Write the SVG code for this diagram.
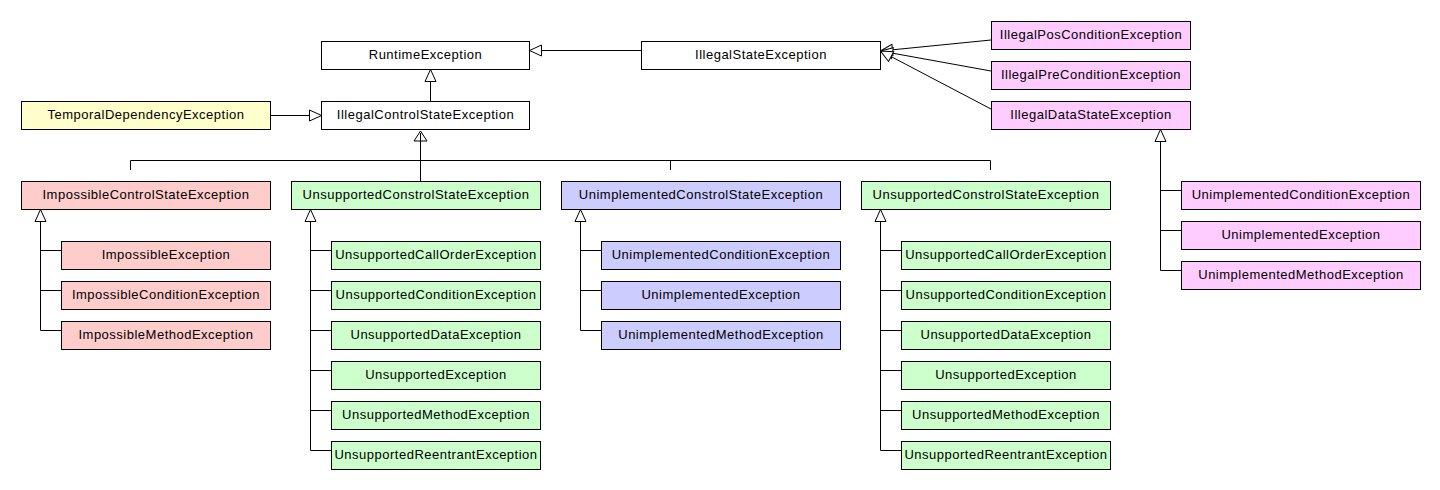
<svg xmlns="http://www.w3.org/2000/svg" width="1440" height="490" viewBox="0 0 1440 490">
<style>
.b{stroke:#000;stroke-width:1}
.w{fill:#fff}.y{fill:#ffffcc}.r{fill:#ffcccc}.g{fill:#ccffcc}.u{fill:#ccccff}.p{fill:#ffccff}
text{font-family:"Liberation Sans",Arial,Helvetica,sans-serif;font-size:13px;letter-spacing:0.5px;fill:#000;text-anchor:middle}
.c{fill:none;stroke:#000;stroke-width:1}
.a{marker-end:url(#tri)}
.t{fill:#fff;stroke:#000;stroke-width:1}
</style>
<defs>
<marker id="tri" markerUnits="userSpaceOnUse" markerWidth="13" markerHeight="13" viewBox="0 0 13 13" refX="12.5" refY="6.5" orient="auto" overflow="visible">
<path d="M0.5,1 L12.5,6.5 L0.5,12 Z" fill="#fff" stroke="#000" stroke-width="1"/>
</marker>
</defs>
<rect width="1440" height="490" fill="#fff"/>
<g id="connectors">
<path class="c a" d="M430.5,101 V69.5"/>
<path class="c a" d="M641,50.5 H529.5"/>
<path class="c a" d="M270,115.5 H321.5"/>
<path class="c a" d="M991,40 L880.5,51"/>
<path class="c a" d="M991,71 L880.5,51"/>
<path class="c a" d="M991,109 L880.5,51"/>
<path class="c" d="M130.5,170 V160.5 H990.5 V170 M670.5,160.5 V170"/>
<polygon class="t" points="420.5,120 414,129.5 427,129.5"/>
<polygon class="t" points="420.5,131 414,141 427,141"/>
<path class="c" d="M420.5,181 V133"/>
<path class="c a" d="M40.5,330.5 V209.5"/>
<path class="c" d="M40.5,250.5 H61 M40.5,290.5 H61 M40.5,330.5 H61"/>
<path class="c a" d="M310.5,450.5 V209.5"/>
<path class="c" d="M310.5,250.5 H331 M310.5,290.5 H331 M310.5,330.5 H331 M310.5,370.5 H331 M310.5,410.5 H331 M310.5,450.5 H331"/>
<path class="c a" d="M580.5,330.5 V209.5"/>
<path class="c" d="M580.5,250.5 H601 M580.5,290.5 H601 M580.5,330.5 H601"/>
<path class="c a" d="M880.5,450.5 V209.5"/>
<path class="c" d="M880.5,250.5 H901 M880.5,290.5 H901 M880.5,330.5 H901 M880.5,370.5 H901 M880.5,410.5 H901 M880.5,450.5 H901"/>
<path class="c a" d="M1160.5,270.5 V129.5"/>
<path class="c" d="M1160.5,190.5 H1181 M1160.5,230.5 H1181 M1160.5,270.5 H1181"/>
</g>
<g id="RuntimeException"><rect class="b w" x="321.5" y="41.5" width="208" height="28"/><text x="425.5" y="59">RuntimeException</text></g>
<g id="IllegalStateException"><rect class="b w" x="641.5" y="41.5" width="239" height="28"/><text x="761" y="59">IllegalStateException</text></g>
<g id="IllegalPosConditionException"><rect class="b p" x="991.5" y="21.5" width="199" height="28"/><text x="1091" y="39">IllegalPosConditionException</text></g>
<g id="IllegalPreConditionException"><rect class="b p" x="991.5" y="61.5" width="199" height="28"/><text x="1091" y="79">IllegalPreConditionException</text></g>
<g id="IllegalDataStateException"><rect class="b p" x="991.5" y="101.5" width="199" height="28"/><text x="1091" y="119">IllegalDataStateException</text></g>
<g id="TemporalDependencyException"><rect class="b y" x="21.5" y="101.5" width="249" height="28"/><text x="146" y="119">TemporalDependencyException</text></g>
<g id="IllegalControlStateException"><rect class="b w" x="321.5" y="101.5" width="208" height="28"/><text x="425.5" y="119">IllegalControlStateException</text></g>
<g id="ImpossibleControlStateException"><rect class="b r" x="21.5" y="181.5" width="249" height="28"/><text x="146" y="199">ImpossibleControlStateException</text></g>
<g id="UnsupportedConstrolStateException1"><rect class="b g" x="291.5" y="181.5" width="249" height="28"/><text x="416" y="199">UnsupportedConstrolStateException</text></g>
<g id="UnimplementedConstrolStateException"><rect class="b u" x="561.5" y="181.5" width="279" height="28"/><text x="701" y="199">UnimplementedConstrolStateException</text></g>
<g id="UnsupportedConstrolStateException2"><rect class="b g" x="861.5" y="181.5" width="249" height="28"/><text x="986" y="199">UnsupportedConstrolStateException</text></g>
<g id="ImpossibleException"><rect class="b r" x="61.5" y="241.5" width="209" height="28"/><text x="166" y="259">ImpossibleException</text></g>
<g id="ImpossibleConditionException"><rect class="b r" x="61.5" y="281.5" width="209" height="28"/><text x="166" y="299">ImpossibleConditionException</text></g>
<g id="ImpossibleMethodException"><rect class="b r" x="61.5" y="321.5" width="209" height="28"/><text x="166" y="339">ImpossibleMethodException</text></g>
<g id="UnsupportedCallOrderException1"><rect class="b g" x="331.5" y="241.5" width="209" height="28"/><text x="436" y="259">UnsupportedCallOrderException</text></g>
<g id="UnsupportedConditionException1"><rect class="b g" x="331.5" y="281.5" width="209" height="28"/><text x="436" y="299">UnsupportedConditionException</text></g>
<g id="UnsupportedDataException1"><rect class="b g" x="331.5" y="321.5" width="209" height="28"/><text x="436" y="339">UnsupportedDataException</text></g>
<g id="UnsupportedException1"><rect class="b g" x="331.5" y="361.5" width="209" height="28"/><text x="436" y="379">UnsupportedException</text></g>
<g id="UnsupportedMethodException1"><rect class="b g" x="331.5" y="401.5" width="209" height="28"/><text x="436" y="419">UnsupportedMethodException</text></g>
<g id="UnsupportedReentrantException1"><rect class="b g" x="331.5" y="441.5" width="209" height="28"/><text x="436" y="459">UnsupportedReentrantException</text></g>
<g id="UnimplementedConditionException1"><rect class="b u" x="601.5" y="241.5" width="239" height="28"/><text x="721" y="259">UnimplementedConditionException</text></g>
<g id="UnimplementedException1"><rect class="b u" x="601.5" y="281.5" width="239" height="28"/><text x="721" y="299">UnimplementedException</text></g>
<g id="UnimplementedMethodException1"><rect class="b u" x="601.5" y="321.5" width="239" height="28"/><text x="721" y="339">UnimplementedMethodException</text></g>
<g id="UnsupportedCallOrderException2"><rect class="b g" x="901.5" y="241.5" width="209" height="28"/><text x="1006" y="259">UnsupportedCallOrderException</text></g>
<g id="UnsupportedConditionException2"><rect class="b g" x="901.5" y="281.5" width="209" height="28"/><text x="1006" y="299">UnsupportedConditionException</text></g>
<g id="UnsupportedDataException2"><rect class="b g" x="901.5" y="321.5" width="209" height="28"/><text x="1006" y="339">UnsupportedDataException</text></g>
<g id="UnsupportedException2"><rect class="b g" x="901.5" y="361.5" width="209" height="28"/><text x="1006" y="379">UnsupportedException</text></g>
<g id="UnsupportedMethodException2"><rect class="b g" x="901.5" y="401.5" width="209" height="28"/><text x="1006" y="419">UnsupportedMethodException</text></g>
<g id="UnsupportedReentrantException2"><rect class="b g" x="901.5" y="441.5" width="209" height="28"/><text x="1006" y="459">UnsupportedReentrantException</text></g>
<g id="UnimplementedConditionException2"><rect class="b p" x="1181.5" y="181.5" width="239" height="28"/><text x="1301" y="199">UnimplementedConditionException</text></g>
<g id="UnimplementedException2"><rect class="b p" x="1181.5" y="221.5" width="239" height="28"/><text x="1301" y="239">UnimplementedException</text></g>
<g id="UnimplementedMethodException2"><rect class="b p" x="1181.5" y="261.5" width="239" height="28"/><text x="1301" y="279">UnimplementedMethodException</text></g>
</svg>
